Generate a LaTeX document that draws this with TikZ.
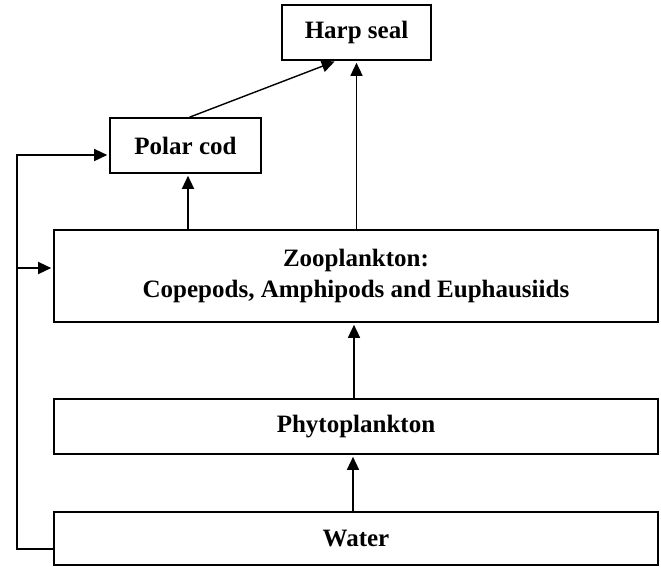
\documentclass[tikz,border=0pt]{standalone}
\usepackage{fontspec}
\setmainfont{Liberation Serif}
\usepackage{tikz}
\usetikzlibrary{arrows.meta}

\tikzset{
  foodbox/.style={draw, line width=1.6pt, inner sep=0pt, align=center,
    font=\fontsize{25}{31}\selectfont\bfseries},
  feeds/.style={line width=1.4pt, shorten >=2pt,
    -{Triangle[length=13pt,width=12pt]}}
}

\begin{document}
\begin{tikzpicture}[x=1pt, y=-1pt]
            \useasboundingbox (0,0) rectangle (661,566);
            \node[foodbox, minimum width=149pt, minimum height=55pt] (harp) at (356.5,32.5) {Harp seal};
            \node[foodbox, minimum width=151pt, minimum height=55pt] (polar) at (185.5,145.5) {Polar cod};
            \node[foodbox, minimum width=604pt, minimum height=92pt] (zoo) at (356,276) {Zooplankton:\\Copepods, Amphipods and Euphausiids};
            \node[foodbox, minimum width=604pt, minimum height=55pt] (phyto) at (356,426.5) {Phytoplankton};
            \node[foodbox, minimum width=604pt, minimum height=53pt] (water) at (356,538.5) {Water};
            \coordinate (loopbot) at (17,549);
            \coordinate (loopmid) at (17,268);
            \coordinate (looptop) at (17,155);
            \draw[feeds] ([xshift=-3pt]water.north) -- ([xshift=-3pt]phyto.south);
            \draw[feeds] ([xshift=-2pt]phyto.north) -- ([xshift=-2pt]zoo.south);
            \draw[feeds] (zoo.north -| harp.south) -- (harp.south);
            \draw[feeds] ([xshift=2.5pt]polar.south |- zoo.north) -- ([xshift=2.5pt]polar.south);
            \draw[feeds] ([xshift=4pt]polar.north) -- ([xshift=-20pt]harp.south);
            \draw[feeds] (water.west |- loopbot) -- (loopbot) -- (looptop) -- (looptop -| polar.west);
            \draw[feeds] (loopmid) -- (loopmid -| zoo.west);
        \end{tikzpicture}
\end{document}
